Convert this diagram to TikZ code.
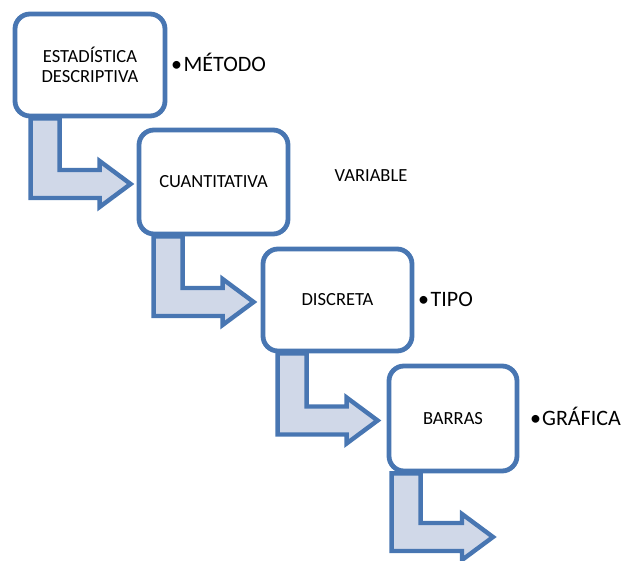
\documentclass[tikz,border=0pt]{standalone}
\usepackage{fontspec}
\setmainfont{Carlito}
\usetikzlibrary{calc,backgrounds}
\definecolor{bord}{RGB}{72,118,178}
\definecolor{afill}{RGB}{208,216,232}
\newcommand{\bentarrow}[2]{\draw[arrowbody] (#1) -- ($(#1|-#2)+(0,14)$) -- ($(#2)+(-31,14)$) -- ($(#2)+(-31,23)$) -- (#2) -- ($(#2)+(-31,-23)$) -- ($(#2)+(-31,-14)$) -- ($(#1|-#2)+(29,-14)$) -- ($(#1)+(29,0)$) -- cycle;}
\begin{document}
\begin{tikzpicture}[x=1pt,y=-1pt,
  box/.style={draw=bord, line width=4.8pt, rounded corners=15pt, fill=white, inner sep=0pt, font=\fontsize{18.5}{20}\selectfont, align=center},
  arrowbody/.style={draw=bord, fill=afill, line width=4.4pt, line join=miter},
  lbl/.style={font=\fontsize{22}{24}\selectfont, inner sep=0pt},
  smalllbl/.style={font=\fontsize{18.5}{20}\selectfont, inner sep=0pt}]
\useasboundingbox (0,0) rectangle (622,561);
\node[box, minimum width=150pt, minimum height=102pt] (b1) at (90,65) {ESTADÍSTICA\\DESCRIPTIVA};
\node[box, minimum width=149pt, minimum height=104pt] (b2) at (213.5,182) {CUANTITATIVA};
\node[box, minimum width=149pt, minimum height=102pt] (b3) at (337.5,300) {DISCRETA};
\node[box, minimum width=128pt, minimum height=105pt] (b4) at (453,418.5) {BARRAS};
\coordinate (s1) at ($(b1.south west)+(18,0)$);
\coordinate (t1) at ($(b2.west)+(-6,2)$);
\coordinate (s2) at ($(b2.south west)+(17,0)$);
\coordinate (t2) at ($(b3.west)+(-7,2)$);
\coordinate (s3) at ($(b3.south west)+(17,0)$);
\coordinate (t3) at ($(b4.west)+(-9,2)$);
\coordinate (s4) at ($(b4.south west)+(5,0)$);
\coordinate (t4) at (493,537);
\begin{scope}[on background layer]
\bentarrow{s1}{t1}
\bentarrow{s2}{t2}
\bentarrow{s3}{t3}
\bentarrow{s4}{t4}
\end{scope}
\node[lbl, anchor=base west] (l1) at (171,72) {•\hspace{1.5pt}MÉTODO};
\node[smalllbl, anchor=base] (l2) at (371,182) {VARIABLE};
\node[lbl, anchor=base west] (l3) at (418,307) {•\hspace{1.5pt}TIPO};
\node[lbl, anchor=base west] (l4) at (530,426) {•\hspace{1pt}GRÁFICA};
\end{tikzpicture}
\end{document}
